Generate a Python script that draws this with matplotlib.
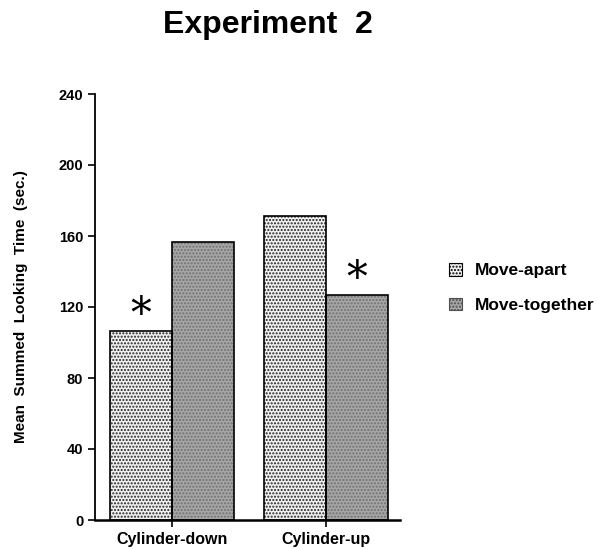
import matplotlib.pyplot as plt
from matplotlib.patches import Patch
import numpy as np

plt.rcParams['font.family'] = ['Liberation Sans', 'DejaVu Sans']

groups = ['Cylinder-down', 'Cylinder-up']
move_apart = [106.5, 171.5]
move_together = [156.5, 127]
yticks = [0, 40, 80, 120, 160, 200, 240]

fig = plt.figure(figsize=(5.96, 5.49), dpi=100)
ax = fig.add_axes([95/596, 29/549, 305/596, 426/549])

x = np.arange(len(groups))
w = 0.4

# fill with stipple pattern, then black outline on top
ax.bar(x - w/2, move_apart, w, color='#f0f0f0', hatch='.....', edgecolor='#222222', linewidth=0)
ax.bar(x + w/2, move_together, w, color='#a6a6a6', hatch='.....', edgecolor='#707070', linewidth=0)
ax.bar(x - w/2, move_apart, w, fill=False, edgecolor='black', linewidth=1.2)
ax.bar(x + w/2, move_together, w, fill=False, edgecolor='black', linewidth=1.2)

# significance stars
ax.text(x[0] - w/2, move_apart[0] + 9, '*', ha='center', va='center', fontsize=30, family='DejaVu Serif')
ax.text(x[1] + w/2, move_together[1] + 9, '*', ha='center', va='center', fontsize=30, family='DejaVu Serif')

ax.set_xlim(-0.5, 1.48)
ax.set_ylim(0, 240)
ax.set_yticks(yticks)
ax.set_yticklabels([str(t) for t in yticks], fontweight='bold', fontsize=10.5)
ax.set_xticks(x)
ax.set_xticklabels(groups, fontweight='bold', fontsize=11.5)
ax.tick_params(axis='both', direction='out', length=5, width=1.2)
ax.spines['top'].set_visible(False)
ax.spines['right'].set_visible(False)
ax.spines['left'].set_linewidth(1.3)
ax.spines['bottom'].set_linewidth(1.8)
ax.set_ylabel('Mean  Summed  Looking  Time  (sec.)', fontweight='bold', fontsize=11, labelpad=22)

fig.text(268/596, 1 - 25/549, 'Experiment  2', ha='center', va='center', fontsize=23, fontweight='bold')

handles = [Patch(facecolor='#f0f0f0', hatch='.....', edgecolor='black', linewidth=0.8),
           Patch(facecolor='#a6a6a6', hatch='.....', edgecolor='#505050', linewidth=0.8)]
leg = fig.legend(handles, ['Move-apart', 'Move-together'], loc='center left',
                 bbox_to_anchor=(433/596, 1 - 288/549), frameon=False,
                 prop={'weight': 'bold', 'size': 12.5}, handlelength=0.75, handleheight=0.75,
                 labelspacing=1.1, handletextpad=0.75)

fig.savefig('out.png', dpi=100)
